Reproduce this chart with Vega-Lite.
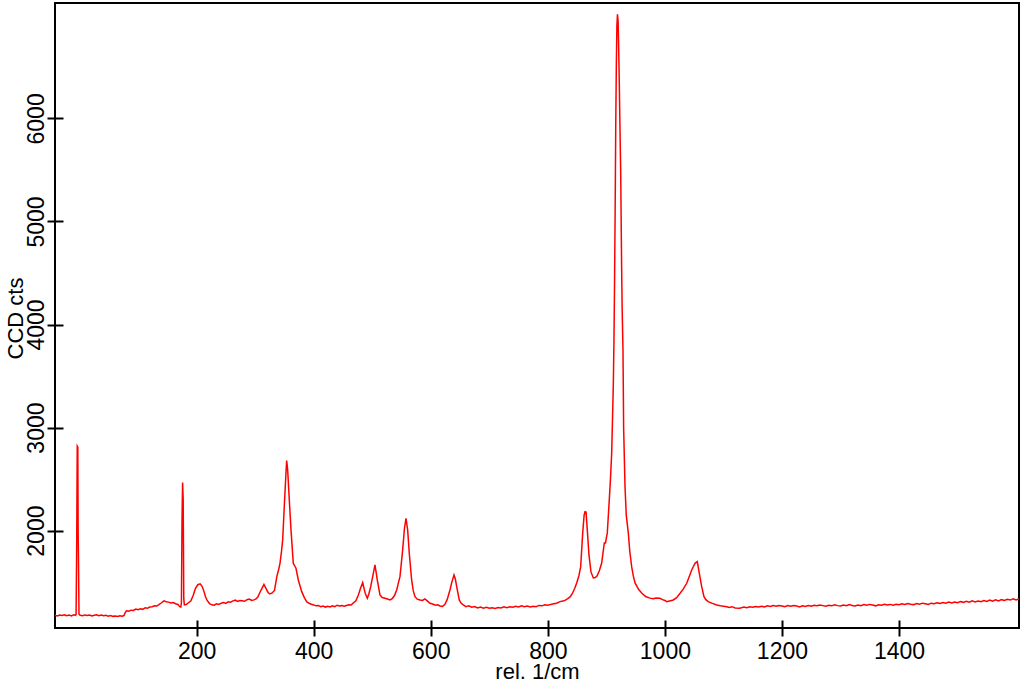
{
  "$schema": "https://vega.github.io/schema/vega-lite/v6.json",
  "width": 964,
  "height": 625,
  "autosize": "none",
  "padding": {"left": 55, "top": 3, "right": 5, "bottom": 54},
  "background": "white",
  "config": {
    "font": "Liberation Sans",
    "view": {"stroke": "black", "strokeWidth": 2},
    "axis": {
      "domain": false,
      "grid": false,
      "tickColor": "black",
      "tickWidth": 2,
      "tickSize": 8,
      "labelColor": "black",
      "labelFontSize": 23,
      "labelPadding": 4,
      "titleColor": "black",
      "titleFontSize": 22,
      "titleFontWeight": "normal",
      "labelFlush": false,
      "labelOverlap": false
    }
  },
  "data": {"values": [
    {"x": -42, "y": 1178}, {"x": -38, "y": 1172}, {"x": -34, "y": 1181}, {"x": -30, "y": 1176}, {"x": -26, "y": 1184}, {"x": -22, "y": 1175}, {"x": -18, "y": 1180}, {"x": -14, "y": 1172}, {"x": -10, "y": 1183}, {"x": -7, "y": 1178}, {"x": -6, "y": 1185}, {"x": -5, "y": 1790}, {"x": -4.5, "y": 2300}, {"x": -4, "y": 2820}, {"x": -3, "y": 2810}, {"x": -2.5, "y": 2000}, {"x": -2, "y": 1790}, {"x": -1, "y": 1190},
    {"x": 1, "y": 1178}, {"x": 5, "y": 1174}, {"x": 9, "y": 1182}, {"x": 13, "y": 1176}, {"x": 17, "y": 1180}, {"x": 21, "y": 1171}, {"x": 25, "y": 1179}, {"x": 29, "y": 1184}, {"x": 33, "y": 1175}, {"x": 37, "y": 1180}, {"x": 41, "y": 1173}, {"x": 45, "y": 1178}, {"x": 49, "y": 1170}, {"x": 53, "y": 1176}, {"x": 57, "y": 1168}, {"x": 61, "y": 1172}, {"x": 65, "y": 1166}, {"x": 69, "y": 1174}, {"x": 73, "y": 1170}, {"x": 76, "y": 1178}, {"x": 78, "y": 1205}, {"x": 80, "y": 1222}, {"x": 84, "y": 1218}, {"x": 88, "y": 1228}, {"x": 92, "y": 1225}, {"x": 96, "y": 1238}, {"x": 100, "y": 1232}, {"x": 104, "y": 1241}, {"x": 108, "y": 1236}, {"x": 112, "y": 1252}, {"x": 116, "y": 1246}, {"x": 120, "y": 1258}, {"x": 124, "y": 1262}, {"x": 128, "y": 1270}, {"x": 132, "y": 1268}, {"x": 136, "y": 1284}, {"x": 140, "y": 1300}, {"x": 144, "y": 1318}, {"x": 148, "y": 1310}, {"x": 152, "y": 1306}, {"x": 156, "y": 1298}, {"x": 160, "y": 1302}, {"x": 164, "y": 1290}, {"x": 168, "y": 1284}, {"x": 171, "y": 1262}, {"x": 173, "y": 1258}, {"x": 174, "y": 1300}, {"x": 175, "y": 2100}, {"x": 176, "y": 2466}, {"x": 177, "y": 2300}, {"x": 178, "y": 1340}, {"x": 179, "y": 1280},
    {"x": 182, "y": 1282}, {"x": 186, "y": 1300}, {"x": 190, "y": 1316}, {"x": 194, "y": 1370}, {"x": 198, "y": 1440}, {"x": 202, "y": 1475}, {"x": 206, "y": 1483}, {"x": 209, "y": 1462}, {"x": 212, "y": 1420}, {"x": 215, "y": 1360}, {"x": 218, "y": 1322}, {"x": 222, "y": 1292}, {"x": 226, "y": 1280}, {"x": 230, "y": 1276}, {"x": 234, "y": 1290}, {"x": 238, "y": 1284}, {"x": 242, "y": 1296}, {"x": 246, "y": 1302}, {"x": 250, "y": 1294}, {"x": 254, "y": 1310}, {"x": 258, "y": 1306}, {"x": 262, "y": 1318}, {"x": 266, "y": 1325}, {"x": 270, "y": 1312}, {"x": 274, "y": 1322}, {"x": 278, "y": 1320}, {"x": 282, "y": 1314}, {"x": 286, "y": 1330}, {"x": 290, "y": 1336}, {"x": 294, "y": 1322}, {"x": 298, "y": 1328}, {"x": 302, "y": 1340}, {"x": 305, "y": 1360}, {"x": 308, "y": 1400}, {"x": 312, "y": 1444}, {"x": 315, "y": 1478}, {"x": 318, "y": 1445}, {"x": 322, "y": 1400}, {"x": 325, "y": 1385}, {"x": 329, "y": 1395}, {"x": 333, "y": 1420}, {"x": 337, "y": 1553}, {"x": 340, "y": 1620}, {"x": 342.4, "y": 1683}, {"x": 345, "y": 1800}, {"x": 347, "y": 1910}, {"x": 349.7, "y": 2233}, {"x": 352.6, "y": 2557}, {"x": 353.8, "y": 2680}, {"x": 355.5, "y": 2590}, {"x": 358.3, "y": 2298}, {"x": 361.2, "y": 2007}, {"x": 365.1, "y": 1683}, {"x": 369.7, "y": 1635}, {"x": 373.7, "y": 1521}, {"x": 379.5, "y": 1408}, {"x": 384, "y": 1350}, {"x": 388, "y": 1311}, {"x": 392, "y": 1295}, {"x": 396, "y": 1285}, {"x": 400, "y": 1279},
    {"x": 404, "y": 1270}, {"x": 408, "y": 1274}, {"x": 412, "y": 1262}, {"x": 416, "y": 1268}, {"x": 420, "y": 1258}, {"x": 424, "y": 1266}, {"x": 428, "y": 1260}, {"x": 432, "y": 1270}, {"x": 436, "y": 1262}, {"x": 440, "y": 1276}, {"x": 444, "y": 1268}, {"x": 448, "y": 1272}, {"x": 452, "y": 1266}, {"x": 456, "y": 1274}, {"x": 460, "y": 1280}, {"x": 464, "y": 1278}, {"x": 468, "y": 1300}, {"x": 472, "y": 1320}, {"x": 476, "y": 1370}, {"x": 480, "y": 1440}, {"x": 483.7, "y": 1495}, {"x": 486, "y": 1440}, {"x": 488, "y": 1392}, {"x": 491.6, "y": 1344}, {"x": 494, "y": 1380}, {"x": 497.4, "y": 1456}, {"x": 501, "y": 1560}, {"x": 504.7, "y": 1667}, {"x": 508.6, "y": 1521}, {"x": 513.2, "y": 1376}, {"x": 517, "y": 1350}, {"x": 521.8, "y": 1344}, {"x": 526, "y": 1336}, {"x": 530.3, "y": 1327}, {"x": 534, "y": 1340}, {"x": 538, "y": 1370}, {"x": 541.8, "y": 1424}, {"x": 545, "y": 1500}, {"x": 547.4, "y": 1553}, {"x": 550, "y": 1700}, {"x": 552, "y": 1813}, {"x": 555, "y": 2020}, {"x": 557.7, "y": 2120}, {"x": 560.5, "y": 2007}, {"x": 563.3, "y": 1780}, {"x": 567.3, "y": 1521}, {"x": 570, "y": 1420}, {"x": 573, "y": 1359}, {"x": 577, "y": 1335}, {"x": 581.6, "y": 1327}, {"x": 586, "y": 1322}, {"x": 590, "y": 1337}, {"x": 594, "y": 1318}, {"x": 598.7, "y": 1295}, {"x": 603, "y": 1288}, {"x": 608, "y": 1276}, {"x": 612, "y": 1280}, {"x": 615.8, "y": 1269}, {"x": 620, "y": 1264}, {"x": 624, "y": 1282}, {"x": 628, "y": 1330}, {"x": 632.8, "y": 1424}, {"x": 636, "y": 1500}, {"x": 639.7, "y": 1570}, {"x": 642, "y": 1530}, {"x": 644.3, "y": 1456}, {"x": 648.7, "y": 1327}, {"x": 652, "y": 1295}, {"x": 655.6, "y": 1279}, {"x": 660, "y": 1262}, {"x": 665, "y": 1270}, {"x": 670, "y": 1256}, {"x": 675, "y": 1264}, {"x": 680, "y": 1250}, {"x": 685, "y": 1258}, {"x": 690, "y": 1248}, {"x": 695, "y": 1256}, {"x": 700, "y": 1246}, {"x": 705, "y": 1252}, {"x": 710, "y": 1244}, {"x": 715, "y": 1254}, {"x": 720, "y": 1250}, {"x": 725, "y": 1260}, {"x": 730, "y": 1252}, {"x": 735, "y": 1262}, {"x": 740, "y": 1256}, {"x": 745, "y": 1266}, {"x": 750, "y": 1260}, {"x": 755, "y": 1270}, {"x": 760, "y": 1262}, {"x": 765, "y": 1268}, {"x": 770, "y": 1258}, {"x": 775, "y": 1266}, {"x": 780, "y": 1262}, {"x": 785, "y": 1274}, {"x": 790, "y": 1270}, {"x": 795, "y": 1280}, {"x": 800, "y": 1276},
    {"x": 805, "y": 1284}, {"x": 810, "y": 1290}, {"x": 815, "y": 1296}, {"x": 820.7, "y": 1311}, {"x": 826, "y": 1316}, {"x": 830, "y": 1326}, {"x": 834, "y": 1340}, {"x": 837.9, "y": 1356}, {"x": 842, "y": 1390}, {"x": 846, "y": 1440}, {"x": 849.3, "y": 1492}, {"x": 853, "y": 1560}, {"x": 856.1, "y": 1648}, {"x": 859.6, "y": 1978}, {"x": 862, "y": 2150}, {"x": 863.5, "y": 2184}, {"x": 865.3, "y": 2181}, {"x": 867.4, "y": 2007}, {"x": 870.3, "y": 1764}, {"x": 873.7, "y": 1599}, {"x": 877.7, "y": 1541}, {"x": 881, "y": 1545}, {"x": 884, "y": 1560}, {"x": 888, "y": 1610}, {"x": 892, "y": 1686}, {"x": 896.5, "y": 1881}, {"x": 898.5, "y": 1881}, {"x": 901.6, "y": 1978}, {"x": 905, "y": 2298}, {"x": 907, "y": 2500}, {"x": 909.1, "y": 2754}, {"x": 911, "y": 3200}, {"x": 912, "y": 3450}, {"x": 913, "y": 3850}, {"x": 914, "y": 4400}, {"x": 915, "y": 5100}, {"x": 916, "y": 5900}, {"x": 917, "y": 6500}, {"x": 918, "y": 6900}, {"x": 919, "y": 7010}, {"x": 920, "y": 6950}, {"x": 921, "y": 6700}, {"x": 922, "y": 6380}, {"x": 923, "y": 6000}, {"x": 924.5, "y": 5474}, {"x": 926, "y": 4600}, {"x": 927, "y": 4150}, {"x": 928.4, "y": 3754}, {"x": 929.5, "y": 3000}, {"x": 931.9, "y": 2424}, {"x": 934, "y": 2150}, {"x": 937.5, "y": 1978}, {"x": 940, "y": 1800}, {"x": 943.3, "y": 1648}, {"x": 946, "y": 1560}, {"x": 949, "y": 1492}, {"x": 955, "y": 1430}, {"x": 960.4, "y": 1395}, {"x": 967, "y": 1360}, {"x": 974.5, "y": 1345}, {"x": 980, "y": 1338}, {"x": 985, "y": 1346}, {"x": 991.5, "y": 1344}, {"x": 996, "y": 1330}, {"x": 1000, "y": 1322},
    {"x": 1003, "y": 1311}, {"x": 1008, "y": 1318}, {"x": 1014.4, "y": 1327}, {"x": 1020, "y": 1350}, {"x": 1026, "y": 1392}, {"x": 1031, "y": 1430}, {"x": 1037.3, "y": 1489}, {"x": 1042, "y": 1560}, {"x": 1045.8, "y": 1618}, {"x": 1051.5, "y": 1683}, {"x": 1055.4, "y": 1699}, {"x": 1058.8, "y": 1586}, {"x": 1062.9, "y": 1456}, {"x": 1066.8, "y": 1359}, {"x": 1070, "y": 1330}, {"x": 1074, "y": 1311}, {"x": 1080, "y": 1296}, {"x": 1088.5, "y": 1279}, {"x": 1095, "y": 1270}, {"x": 1100, "y": 1266}, {"x": 1105.6, "y": 1262}, {"x": 1110, "y": 1254}, {"x": 1115, "y": 1262}, {"x": 1120, "y": 1250}, {"x": 1128, "y": 1247}, {"x": 1135, "y": 1258}, {"x": 1140, "y": 1252}, {"x": 1145, "y": 1262}, {"x": 1150, "y": 1256}, {"x": 1155, "y": 1264}, {"x": 1160, "y": 1258}, {"x": 1165, "y": 1266}, {"x": 1170, "y": 1260}, {"x": 1175, "y": 1270}, {"x": 1180, "y": 1264}, {"x": 1185, "y": 1272}, {"x": 1190, "y": 1266}, {"x": 1195, "y": 1274}, {"x": 1200, "y": 1268},
    {"x": 1205, "y": 1262}, {"x": 1210, "y": 1272}, {"x": 1215, "y": 1266}, {"x": 1220, "y": 1274}, {"x": 1225, "y": 1268}, {"x": 1230, "y": 1260}, {"x": 1235, "y": 1270}, {"x": 1240, "y": 1264}, {"x": 1245, "y": 1272}, {"x": 1250, "y": 1266}, {"x": 1255, "y": 1276}, {"x": 1260, "y": 1270}, {"x": 1265, "y": 1278}, {"x": 1270, "y": 1272}, {"x": 1275, "y": 1266}, {"x": 1280, "y": 1276}, {"x": 1285, "y": 1270}, {"x": 1290, "y": 1280}, {"x": 1295, "y": 1272}, {"x": 1300, "y": 1268}, {"x": 1305, "y": 1278}, {"x": 1310, "y": 1272}, {"x": 1315, "y": 1282}, {"x": 1320, "y": 1274}, {"x": 1325, "y": 1268}, {"x": 1330, "y": 1278}, {"x": 1335, "y": 1272}, {"x": 1340, "y": 1282}, {"x": 1345, "y": 1276}, {"x": 1350, "y": 1284}, {"x": 1355, "y": 1278}, {"x": 1360, "y": 1270}, {"x": 1365, "y": 1280}, {"x": 1370, "y": 1276}, {"x": 1375, "y": 1286}, {"x": 1380, "y": 1278}, {"x": 1385, "y": 1284}, {"x": 1390, "y": 1276}, {"x": 1395, "y": 1286}, {"x": 1400, "y": 1280},
    {"x": 1405, "y": 1290}, {"x": 1410, "y": 1284}, {"x": 1415, "y": 1292}, {"x": 1420, "y": 1286}, {"x": 1425, "y": 1282}, {"x": 1430, "y": 1292}, {"x": 1435, "y": 1286}, {"x": 1440, "y": 1296}, {"x": 1445, "y": 1290}, {"x": 1450, "y": 1284}, {"x": 1455, "y": 1296}, {"x": 1460, "y": 1290}, {"x": 1465, "y": 1300}, {"x": 1470, "y": 1292}, {"x": 1475, "y": 1302}, {"x": 1480, "y": 1296}, {"x": 1485, "y": 1306}, {"x": 1490, "y": 1298}, {"x": 1495, "y": 1308}, {"x": 1500, "y": 1300}, {"x": 1505, "y": 1312}, {"x": 1510, "y": 1304}, {"x": 1515, "y": 1314}, {"x": 1520, "y": 1306}, {"x": 1525, "y": 1318}, {"x": 1530, "y": 1308}, {"x": 1535, "y": 1316}, {"x": 1540, "y": 1310}, {"x": 1545, "y": 1322}, {"x": 1550, "y": 1312}, {"x": 1555, "y": 1326}, {"x": 1560, "y": 1316}, {"x": 1565, "y": 1328}, {"x": 1570, "y": 1318}, {"x": 1575, "y": 1330}, {"x": 1580, "y": 1322}, {"x": 1585, "y": 1334}, {"x": 1590, "y": 1326}, {"x": 1595, "y": 1338}, {"x": 1600, "y": 1328}, {"x": 1605, "y": 1336}
  ]},
  "layer": [
    {
      "mark": {"type": "line", "color": "#ff0000", "strokeWidth": 1.5, "clip": true},
      "encoding": {
        "x": {
          "field": "x",
          "type": "quantitative",
          "scale": {"domain": [-42, 1605], "nice": false, "zero": false},
          "axis": {"orient": "bottom", "values": [200, 400, 600, 800, 1000, 1200, 1400], "format": "d", "title": "rel. 1/cm", "titleBaseline": "alphabetic", "titleY": 50}
        },
        "y": {
          "field": "y",
          "type": "quantitative",
          "scale": {"domain": [1055, 7120], "nice": false, "zero": false},
          "axis": {"orient": "left", "values": [2000, 3000, 4000, 5000, 6000], "format": "d", "title": "CCD cts", "labelAngle": -90, "labelAlign": "center", "labelBaseline": "alphabetic", "titleAngle": -90, "titleBaseline": "alphabetic", "titleX": -33, "titleY": 315}
        }
      }
    },
    {
      "mark": {"type": "line", "opacity": 0, "clip": true},
      "encoding": {
        "x": {
          "field": "x",
          "type": "quantitative",
          "axis": {"orient": "bottom", "values": [200, 400, 600, 800, 1000, 1200, 1400], "labels": false, "title": null, "tickSize": -8}
        },
        "y": {
          "field": "y",
          "type": "quantitative",
          "axis": {"orient": "left", "values": [2000, 3000, 4000, 5000, 6000], "labels": false, "title": null, "tickSize": -8}
        }
      }
    }
  ],
  "resolve": {"axis": {"x": "independent", "y": "independent"}}
}
